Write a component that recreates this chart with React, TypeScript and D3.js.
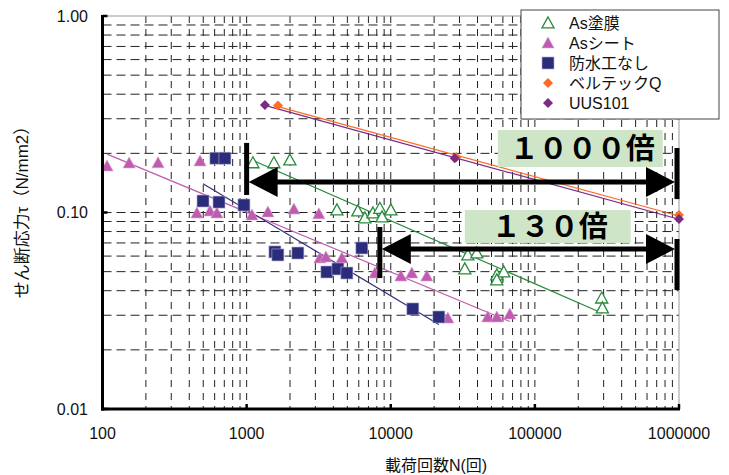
import React from "react";
import * as d3 from "d3";

// 載荷回数 N (x) and せん断応力 τ (y)
const asCoatN = [1106, 1546, 1996, 4230, 5910, 6610, 7520, 8400, 8700, 10020, 34260, 39540, 32650, 54450, 60850, 54400, 291000, 294000];
const asCoatT = [0.179, 0.179, 0.185, 0.103, 0.1018, 0.0938, 0.0994, 0.105, 0.0949, 0.103, 0.0608, 0.0622, 0.0516, 0.0481, 0.0498, 0.0454, 0.0367, 0.0327];

const asSheetN = [107.5, 153, 243, 475, 452, 557, 622, 1089, 1405, 2128, 3170, 3223, 3548, 4580, 7760, 11750, 14000, 17800, 24900, 47100, 54400, 67000];
const asSheetT = [0.1724, 0.1786, 0.179, 0.183, 0.0994, 0.1018, 0.0994, 0.0971, 0.1006, 0.104, 0.0984, 0.0587, 0.0594, 0.0587, 0.0492, 0.0475, 0.0492, 0.0475, 0.029, 0.0294, 0.0294, 0.0304];

const noProofN = [612, 707, 498, 643, 958, 1571, 1648, 2268, 3605, 4297, 4964, 6303, 14230, 21570];
const noProofT = [0.189, 0.189, 0.1144, 0.113, 0.1092, 0.063, 0.0608, 0.0622, 0.0498, 0.0516, 0.0492, 0.066, 0.0323, 0.0294];

const beltecN = [1650, 28500, 1000000];
const beltecT = [0.35, 0.191, 0.097];

const uusN = [1340, 27800, 1000000];
const uusT = [0.352, 0.189, 0.0927];

const seriesNames = ["As塗膜", "Asシート", "防水工なし", "ベルテックQ", "UUS101"];

const xTicks = [100, 1000, 10000, 100000, 1000000];
const xTickLabels = ["100", "1000", "10000", "100000", "1000000"];
const yTicks = [0.01, 0.1, 1];
const yTickLabels = ["0.01", "0.10", "1.00"];

// annotation arrows (from N, to N, τ of the shaft, τ range of the end bars)
const arrowFromN = [1000, 8400];
const arrowTau = [0.143, 0.0652];
const arrowLeftBar = [[0.1228, 0.226], [0.0464, 0.0844]];
const arrowRightBar = [[0.117, 0.213], [0.0403, 0.0733]];
const boxN = [[55300, 771000], [32650, 462000]];
const boxTau = [[0.1704, 0.263], [0.07, 0.103]];
const boxLabels = ["１０００倍", "１３０倍"];

const latin = "'Liberation Sans', Arial, 'Noto Sans CJK JP', sans-serif";

const W = 729;
const H = 475;
const left = 102.5;
const right = 679;
const top = 16;
const bottom = 409;

function fit(ns: number[], ts: number[]) {
  const lx = ns.map(Math.log10);
  const ly = ts.map(Math.log10);
  const mx = d3.mean(lx) as number;
  const my = d3.mean(ly) as number;
  const sxy = d3.sum(lx, (v, i) => (v - mx) * (ly[i] - my));
  const sxx = d3.sum(lx, (v) => (v - mx) * (v - mx));
  const b = sxy / sxx;
  const a = my - b * mx;
  const [n0, n1] = d3.extent(ns) as [number, number];
  return [n0, n1].map((n) => [n, Math.pow(10, a + b * Math.log10(n))]);
}

export default function App() {
  const x = d3.scaleLog().domain([100, 1000000]).range([left, right]);
  const y = d3.scaleLog().domain([0.01, 1]).range([bottom, top]);

  const vGrid: number[] = [];
  [100, 1000, 10000, 100000].forEach((d) => {
    for (let k = 2; k <= 10; k++) if (d * k < 1000000) vGrid.push(d * k);
  });
  const hGrid: number[] = [];
  [0.01, 0.1].forEach((d) => {
    for (let k = 2; k <= 10; k++) if (d * k < 0.99) hGrid.push(d * k);
  });

  const line = d3
    .line<number[]>()
    .x((d) => x(d[0]))
    .y((d) => y(d[1]));

  const tri = (cx: number, cy: number, s: number) =>
    `M${cx},${cy - s * 0.55}L${cx + s * 0.55},${cy + s * 0.45}L${cx - s * 0.55},${cy + s * 0.45}Z`;
  const dia = (cx: number, cy: number, s: number) =>
    `M${cx},${cy - s}L${cx + s},${cy}L${cx},${cy + s}L${cx - s},${cy}Z`;

  const green = "#2a8a3c";
  const magenta = "#c05cb0";
  const navy = "#2c2c7c";
  const orange = "#ff6a28";
  const purple = "#7a2c84";

  const series = [
    { n: asCoatN, t: asCoatT, color: green },
    { n: asSheetN, t: asSheetT, color: magenta },
    { n: noProofN, t: noProofT, color: navy },
    { n: beltecN, t: beltecT, color: orange },
    { n: uusN, t: uusT, color: purple },
  ];

  const legendMarker = (i: number, cx: number, cy: number) => {
    if (i === 0) return <path d={tri(cx, cy, 11)} fill="white" stroke={green} strokeWidth={1.3} />;
    if (i === 1) return <path d={tri(cx, cy, 11)} fill={magenta} stroke="#d9a0d0" strokeWidth={0.6} />;
    if (i === 2) return <rect x={cx - 6} y={cy - 6} width={12} height={12} fill={navy} stroke="#b0b0d0" strokeWidth={0.6} />;
    if (i === 3) return <path d={dia(cx, cy, 5)} fill={orange} />;
    return <path d={dia(cx, cy, 5)} fill={purple} />;
  };

  return (
    <div style={{ position: "absolute", left: 0, top: 0 }}>
      <svg width={W} height={H} style={{ display: "block", background: "white" }}>
        {/* grid */}
        {hGrid.map((v) => (
          <line key={"h" + v} x1={left} x2={right} y1={y(v)} y2={y(v)} stroke="#222" strokeWidth={1} strokeDasharray="9,5" />
        ))}
        {vGrid.map((v) => (
          <line key={"v" + v} x1={x(v)} x2={x(v)} y1={top} y2={bottom} stroke="#222" strokeWidth={1} strokeDasharray="7,6" />
        ))}
        {/* plot frame */}
        <line x1={left} x2={right} y1={top} y2={top} stroke="#999" strokeWidth={1} />
        <line x1={right} x2={right} y1={top} y2={bottom} stroke="#999" strokeWidth={1} />

        {/* trend lines */}
        {series.map((s, i) => (
          <path key={"fit" + i} d={line(fit(s.n, s.t)) as string} fill="none" stroke={s.color} strokeWidth={1.2} />
        ))}

        {/* markers */}
        {asCoatN.map((n, i) => (
          <path key={"g" + i} d={tri(x(n), y(asCoatT[i]), 11)} fill="white" stroke={green} strokeWidth={1.3} />
        ))}
        {asSheetN.map((n, i) => (
          <path key={"m" + i} d={tri(x(n), y(asSheetT[i]), 11)} fill={magenta} stroke="#d9a0d0" strokeWidth={0.6} />
        ))}
        {noProofN.map((n, i) => (
          <rect key={"n" + i} x={x(n) - 6} y={y(noProofT[i]) - 6} width={12} height={12} fill={navy} stroke="#b0b0d0" strokeWidth={0.6} />
        ))}
        {beltecN.map((n, i) => (
          <path key={"o" + i} d={dia(x(n), y(beltecT[i]), 5)} fill={orange} />
        ))}
        {uusN.map((n, i) => (
          <path key={"p" + i} d={dia(x(n), y(uusT[i]), 5)} fill={purple} />
        ))}

        {/* axes */}
        <line x1={left} x2={left} y1={top - 1} y2={bottom + 1.5} stroke="black" strokeWidth={3} />
        <line x1={left - 1.5} x2={right + 1} y1={bottom} y2={bottom} stroke="black" strokeWidth={3} />
        {yTicks.map((v) => (
          <line key={"yt" + v} x1={left} x2={left + 5} y1={y(v)} y2={y(v)} stroke="black" strokeWidth={2.5} />
        ))}
        {xTicks.map((v) => (
          <line key={"xt" + v} x1={x(v)} x2={x(v)} y1={bottom} y2={bottom - 5} stroke="black" strokeWidth={2.5} />
        ))}
        {yTicks.map((v, i) => (
          <text key={"yl" + v} x={88} y={y(v)} dy="0.35em" textAnchor="end" fontFamily={latin} fontSize={16} fill="#111">
            {yTickLabels[i]}
          </text>
        ))}
        {xTicks.map((v, i) => (
          <text key={"xl" + v} x={x(v)} y={439} textAnchor="middle" fontFamily={latin} fontSize={16} fill="#111">
            {xTickLabels[i]}
          </text>
        ))}
        <text x={436} y={471} textAnchor="middle" fontFamily={latin} fontSize={16} fill="#111">
          載荷回数N(回)
        </text>
        <text
          transform={`translate(28,${208}) rotate(-90)`}
          textAnchor="middle"
          fontFamily={latin}
          fontSize={17}
          fill="#111"
        >
          せん断応力τ（N/mm2）
        </text>

        {/* annotations */}
        {boxN.map((bn, i) => (
          <g key={"box" + i}>
            <rect x={x(bn[0])} y={y(boxTau[i][1])} width={x(bn[1]) - x(bn[0])} height={y(boxTau[i][0]) - y(boxTau[i][1])} fill="#cfe5c8" />
            <text
              x={(x(bn[0]) + x(bn[1])) / 2 + 2}
              y={(y(boxTau[i][0]) + y(boxTau[i][1])) / 2}
              dy="0.36em"
              textAnchor="middle"
              fontFamily="'Noto Sans CJK JP', sans-serif"
              fontWeight="bold"
              fontSize={29}
              fill="black"
            >
              {boxLabels[i]}
            </text>
          </g>
        ))}
        {arrowFromN.map((fn, i) => {
          const x0 = x(fn);
          const x1 = x(1000000) - 2;
          const yy = y(arrowTau[i]);
          return (
            <g key={"arr" + i}>
              <line x1={x0 + 20} x2={x1 - 20} y1={yy} y2={yy} stroke="black" strokeWidth={5} />
              <path d={`M${x0 + 2},${yy}L${x0 + 31},${yy - 15}L${x0 + 31},${yy + 15}Z`} fill="black" />
              <path d={`M${x1 - 2},${yy}L${x1 - 31},${yy - 15}L${x1 - 31},${yy + 15}Z`} fill="black" />
              <line x1={x0} x2={x0} y1={y(arrowLeftBar[i][1])} y2={y(arrowLeftBar[i][0])} stroke="black" strokeWidth={5} />
              <line x1={x1} x2={x1} y1={y(arrowRightBar[i][1])} y2={y(arrowRightBar[i][0])} stroke="black" strokeWidth={5} />
            </g>
          );
        })}

        {/* legend */}
        <rect x={521} y={10} width={198} height={109} fill="white" stroke="#444" strokeWidth={1} />
        {seriesNames.map((name, i) => (
          <g key={"lg" + i}>
            {legendMarker(i, 548, 23 + i * 20)}
            <text x={569} y={23 + i * 20} dy="0.36em" fontFamily={latin} fontSize={16} fill="#111">
              {name}
            </text>
          </g>
        ))}
      </svg>
    </div>
  );
}
